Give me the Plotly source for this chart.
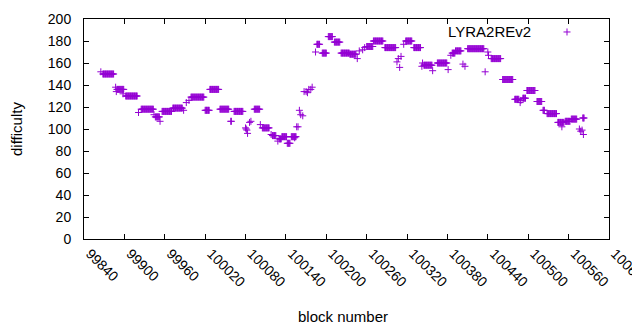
import plotly.graph_objects as go

# Constant-difficulty runs: (first block, last block, difficulty)
run_start = [99868, 99889, 99902, 99925, 99946, 99956, 99972, 99999, 100020, 100027,
             100042, 100063, 100093, 100105, 100120, 100130, 100134, 100142, 100148, 100186,
             100194, 100203, 100212, 100222, 100235, 100260, 100270, 100287, 100318, 100330,
             100345, 100365, 100387, 100392, 100410, 100445, 100462, 100480, 100492, 100498,
             100513, 100522, 100528, 100544, 100555, 100564, 100581]
run_end = [99884, 99899, 99919, 99943, 99952, 99970, 99986, 100018, 100026, 100040,
           100055, 100076, 100101, 100115, 100125, 100133, 100141, 100146, 100155, 100190,
           100200, 100209, 100220, 100234, 100244, 100269, 100284, 100303, 100327, 100340,
           100357, 100379, 100391, 100400, 100434, 100459, 100477, 100486, 100496, 100510,
           100520, 100524, 100542, 100553, 100562, 100572, 100583]
run_value = [150, 136, 130, 118, 111, 116, 119, 129, 117, 136,
             118, 116, 118, 101, 94, 91, 93, 87, 93, 177,
             169, 184, 179, 169, 168, 175, 180, 174, 180, 174,
             158, 160, 169, 171, 173, 164, 145, 127, 128, 135,
             125, 117, 114, 106, 107, 109, 110]

# Isolated blocks
pt_block = [99865, 99887, 99888, 99898, 99921, 99944, 99953, 99988, 99992, 99996,
            100058, 100059, 100080, 100081, 100082, 100083, 100086, 100088, 100102, 100118,
            100128, 100153, 100156, 100158, 100160, 100162, 100165, 100167, 100170, 100172,
            100174, 100177, 100179, 100184, 100246, 100249, 100254, 100257, 100305, 100307,
            100309, 100311, 100315, 100342, 100343, 100358, 100381, 100385, 100403, 100406,
            100436, 100440, 100441, 100488, 100489, 100550, 100576, 100578, 100580, 100582]
pt_value = [152, 138, 134, 132, 115, 113, 107, 117, 124, 126,
            107, 107, 101, 100, 99, 96, 106, 107, 104, 95,
            89, 92, 102, 102, 117, 113, 112, 134, 134, 133,
            136, 136, 138, 170, 164, 171, 172, 174, 161, 164,
            156, 166, 177, 157, 160, 153, 154, 167, 159, 157,
            152, 170, 167, 124, 126, 102, 100, 98, 99, 95]

x_ticks = list(range(99840, 100621, 60))
y_ticks = list(range(0, 201, 20))
series_name = "LYRA2REv2"
color = "#9400D3"

blocks, diffs = [], []
for s, e, v in zip(run_start, run_end, run_value):
    for b in range(s, e + 1):
        blocks.append(b)
        diffs.append(v)
blocks += pt_block
diffs += pt_value

font = "Liberation Sans, Arial, sans-serif"
marker = dict(symbol="cross-thin", size=5, color=color, line=dict(color=color, width=1))

fig = go.Figure()
fig.add_trace(go.Scatter(x=blocks, y=diffs, mode="markers", marker=marker,
                         name=series_name, showlegend=False, hoverinfo="skip",
                         cliponaxis=False))
# legend sample (gnuplot style: text then symbol)
fig.add_trace(go.Scatter(x=[0.920], y=[0.941], mode="markers", marker=marker,
                         xaxis="x2", yaxis="y2", showlegend=False, hoverinfo="skip"))

axis_common = dict(showline=True, linecolor="black", linewidth=1, mirror="ticks",
                   ticks="inside", ticklen=5, tickcolor="black", tickwidth=1,
                   showgrid=False, zeroline=False, automargin=False,
                   tickfont=dict(family=font, size=14, color="black"))

# the page body adds an 8px offset, so the figure is 8px smaller and shifted
fig.update_layout(
    width=632, height=322,
    margin=dict(l=76, r=31, t=11, b=91, autoexpand=False),
    showlegend=False,
    paper_bgcolor="white", plot_bgcolor="white",
    xaxis=dict(range=[99840, 100620.01], tickmode="array", tickvals=x_ticks,
               ticktext=[str(t) for t in x_ticks], tickangle=45,
               ticklabelshift=6, ticklabeloverflow="allow", **axis_common),
    yaxis=dict(range=[0, 200], tickmode="array", tickvals=y_ticks,
               ticktext=[str(t) for t in y_ticks], ticklabelstandoff=9, **axis_common),
    xaxis2=dict(range=[0, 1], overlaying="x", visible=False, automargin=False),
    yaxis2=dict(range=[0, 1], overlaying="y", visible=False, automargin=False),
    annotations=[
        dict(text=series_name, xref="paper", yref="paper", x=0.8552, y=0.941,
             xanchor="right", yanchor="middle", showarrow=False,
             font=dict(family=font, size=15, color="black")),
        dict(text="block number", xref="paper", yref="paper", x=0.494, y=-0.35,
             xanchor="center", yanchor="middle", showarrow=False,
             font=dict(family=font, size=15, color="black")),
        dict(text="difficulty", xref="paper", yref="paper", x=-0.1295, y=0.5,
             xanchor="center", yanchor="middle", textangle=-90, showarrow=False,
             font=dict(family=font, size=15, color="black")),
    ],
)

fig.write_html("out.html")
